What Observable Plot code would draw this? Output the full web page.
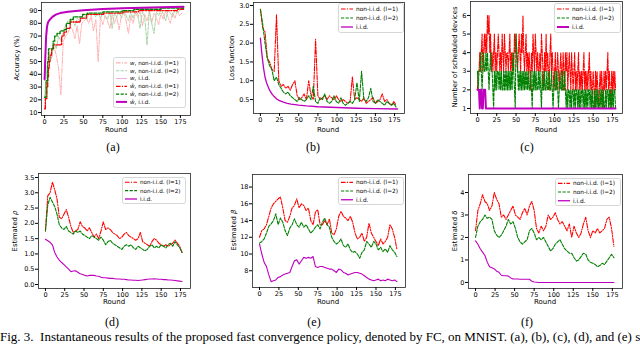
<!DOCTYPE html>
<html><head><meta charset="utf-8">
<script src="https://cdn.jsdelivr.net/npm/d3@7"></script>
<script src="https://cdn.jsdelivr.net/npm/@observablehq/plot@0.6"></script>
<style>
body{margin:0;background:#fff;}
#root{position:relative;width:640px;height:346px;overflow:hidden;background:#fff;font-family:"DejaVu Sans",sans-serif;}
.lbl{position:absolute;white-space:nowrap;color:#000;line-height:1;}
.serif{font-family:"Liberation Serif","Times New Roman",serif;}
</style></head><body><div id="root"></div>
<script>
// ---------- shared x values (rounds) ----------
const r3 = [0,3,6,9,12,15,18,21,24,27,30,33,36,39,42,45,48,51,54,57,60,63,66,69,72,75,78,81,84,87,90,93,96,99,102,105,108,111,114,117,120,123,126,129,132,135,138,141,144,147,150,153,156,159,162,165,168,171,174,177];
const xTicks = [0,25,50,75,100,125,150,175];

// ---------- (a) accuracy ----------
const accWL1 = [13,30,48,57,62,55,45,24,66,70, 72,77,75,68,78,64,80,82,84,80, 86,74,83,50,85,79,86,82,76,87, 80,85,75,86,88,82,72,86,80,88, 85,89,78,87,82,89,80,88,84,79, 88,83,90,85,80,88,84,90,86,88];
const accWL2 = [22,45,58,52,65,60,70,66,74,78, 82,80,84,78,84,82,85,87,83,88, 86,88,85,88,84,88,86,83,89,76, 88,85,89,84,90,86,82,89,84,90, 87,76,89,85,63,90,80,72,89,86, 91,87,82,90,88,85,91,88,90,92];
const accWIIDx = [0,2,4,6,10,15,20,30,40,50,60,75,100,125,150,179];
const accWIID = [36,68,79,82,84.5,86.5,87.8,88.8,89.5,90,90.5,91,91.6,92,92.4,92.8];
const accHL1x = [0,1,3,4,5,6,7,9,11,22,25,28,33,46,54,76,101,121,171,179];
const accHL1 = [13,21,30,38,45,50,55,60,63,70,73,76,81,84,87,88,89,90,91,92];
const accHL2x = [0,2,4,5,11,13,16,20,25,28,33,37,49,55,75,100,115,150,179];
const accHL2 = [22,35,50,60,66,70,72,74,75,80,83,85,87,88,89,90,91,92,92.5];
const accHIIDx = [0,1,2,3,4,5,7,10,15,20,30,40,50,60,75,100,125,150,179];
const accHIID = [36,55,70,77,80,81.5,83,85,87,88,89,89.6,90.2,90.7,91.2,91.8,92.2,92.6,93];
const accTicks = [10,20,30,40,50,60,70,80,90];

// ---------- (b) loss ----------
const lossL1 = [2.9,2.4,2.3,1.6,1.5,1.3,1.25,2.75,1.0,0.85, 0.9,0.8,0.85,0.75,0.9,1.0,0.6,0.5,0.55,0.65, 0.5,1.0,0.6,0.5,2.1,0.6,0.5,0.55,0.6,0.5, 0.6,0.55,0.5,0.6,0.5,0.45,0.5,0.45,0.4,0.45, 1.1,0.5,0.55,0.5,0.45,0.55,0.4,0.45,0.5,0.55, 0.4,0.45,0.5,0.65,0.45,0.5,0.4,0.35,0.45,0.35];
const lossL2 = [2.9,2.5,2.0,1.6,1.4,1.3,1.0,1.1,0.9,0.8, 0.7,0.65,0.7,0.6,0.55,0.5,0.45,0.55,0.5,0.45, 0.5,0.6,0.5,0.85,0.45,0.4,0.55,0.5,0.65,0.45, 0.4,0.45,0.6,0.45,0.4,0.55,0.4,0.35,0.4,0.45, 0.4,0.5,0.95,0.45,1.25,0.5,0.45,0.55,0.8,0.45, 0.4,0.5,0.45,0.4,0.35,0.45,0.4,0.35,0.4,0.3];
const lossIIDx = [0,2,4,6,8,10,12,15,18,21,25,30,35,40,50,60,75,100,125,150,179];
const lossIID = [2.13,1.7,1.35,1.1,0.95,0.85,0.75,0.65,0.58,0.52,0.47,0.43,0.4,0.38,0.35,0.33,0.31,0.29,0.27,0.26,0.25];
const lossTicks = [0.5,1.0,1.5,2.0,2.5,3.0];

// ---------- (c) scheduled devices (one value per round) ----------
const devL1 = [2,3,3,4,3,4,5,3,4,5,4,5,4,6,5,6,4,5,3,4, 3,4,5,3,4,3,4,5,4,3,4,3,5,4,3,5,4,3,4,4, 3,4,5,3,4,3,4,3,5,4,5,4,3,4,5,4,3,5,4,6, 4,3,4,5,3,4,3,4,3,2,4,3,5,4,3,5,4,3,4,3, 3,4,3,5,4,3,2,4,3,5,3,4,3,2,4,5,3,4,3,2, 3,4,2,3,4,3,2,3,4,3,2,4,3,2,4,3,4,2,3,4, 3,2,4,3,2,3,4,2,3,2,3,4,2,3,2,3,2,3,4,2, 3,2,3,2,3,4,2,3,2,2,3,2,1,3,2,3,2,1,2,3, 2,3,2,1,3,2,3,2,3,4,2,3,2,1,3,2,3,2,3,2];
const devL2 = [3,2,3,3,4,3,2,3,4,3,3,4,3,4,3,2,3,4,3,3, 2,1,3,2,3,2,3,3,2,3,2,3,2,2,3,2,3,2,3,2, 3,2,3,2,3,2,4,3,2,1,5,4,3,2,3,2,3,2,3,2, 3,2,3,2,3,2,3,2,2,3,2,1,3,2,3,2,3,2,2,3, 2,3,2,1,3,2,2,3,2,2,3,2,2,3,2,2,3,2,1,2, 3,2,2,3,2,1,2,3,2,2,3,2,2,3,2,1,2,1,2,2, 1,2,1,2,2,1,2,1,2,2,1,2,1,2,1,2,2,1,2,1, 2,1,2,1,2,2,1,2,1,2,1,1,2,1,2,1,2,1,1,2, 1,2,1,2,1,1,2,1,2,2,1,2,1,2,1,2,1,2,2,1];
const devIIDx = [0,1,2,3,4,5,6,7,8,9,10,11,179];
const devIID = [2,2,2,1,2,2,1,1,2,2,2,1,1];
const devTicks = [1,2,3,4,5,6];

// ---------- (d) estimated rho ----------
const rhoL1 = [1.75,2.9,3.0,3.35,3.1,2.8,2.2,2.15,2.3,2.45, 2.2,1.9,1.7,1.75,1.8,2.05,1.9,1.85,1.75,1.85, 1.7,1.55,1.65,1.5,1.75,2.05,1.8,1.85,1.8,1.7, 1.65,1.6,1.5,1.55,1.65,1.7,1.6,1.55,1.5,1.45, 1.5,1.7,1.4,1.35,1.3,1.25,1.4,1.5,1.45,1.35, 1.3,1.25,1.3,1.25,1.3,1.35,1.45,1.35,1.25,1.05];
const rhoL2 = [1.75,2.6,2.85,2.7,2.55,2.3,1.95,1.85,1.8,1.9, 1.75,1.7,1.65,1.75,1.7,1.75,1.65,1.6,1.55,1.5, 1.6,1.55,1.5,1.45,1.55,1.45,1.3,1.4,1.45,1.35, 1.3,1.25,1.2,1.15,1.25,1.3,1.25,1.3,1.2,1.15, 1.25,1.2,1.15,1.1,1.15,1.25,1.3,1.2,1.25,1.2, 1.3,1.25,1.2,1.3,1.35,1.25,1.4,1.3,1.2,1.05];
const rhoIID = [1.48,1.43,1.38,1.3,1.05,0.9,0.8,0.72,0.65,0.58, 0.5,0.42,0.44,0.45,0.4,0.35,0.33,0.3,0.28,0.3, 0.3,0.3,0.28,0.27,0.24,0.22,0.22,0.21,0.2,0.2, 0.19,0.18,0.18,0.17,0.17,0.16,0.15,0.15,0.14,0.14, 0.13,0.14,0.15,0.16,0.17,0.18,0.18,0.19,0.18,0.17, 0.17,0.16,0.16,0.15,0.15,0.14,0.13,0.12,0.11,0.1];
const rhoTicks = [0.0,0.5,1.0,1.5,2.0,2.5,3.0,3.5];

// ---------- (e) estimated beta ----------
const betaL1 = [12,12.8,13,13.5,14.5,15.5,16,16.3,16.6,16.8, 15.5,14,13.8,14.5,15.5,15.8,16.6,15.5,16,15.8, 15.2,15.5,14,13.5,15,15.3,13.5,13.5,14,13.5, 14.2,12.5,12.3,13,14.5,15.1,14.5,14.3,14,14.5, 13.8,12.5,11.8,12,12.5,11.5,12,13.7,12.5,12, 11.5,11,11.8,11.2,11.5,12,13.5,13,12,10.5];
const betaL2 = [11.3,11.5,11.8,12.5,13.3,13.6,14,14.8,13.5,14.3, 13.8,12.8,12.2,13.1,13.5,14.2,13.5,13.2,13.8,13.2, 13.5,13,12.5,12.8,13.2,13.5,13,13.8,14.3,13.5, 13.2,12,11.5,11.2,11.4,11.8,11,10.8,11.2,10.5, 10.2,10.3,10,9.5,10.2,10.5,11.5,11.2,10.8,11.5, 11.2,10.5,10.8,10.3,10.6,10.2,11,10.5,10.2,9.7];
const betaIID = [11.2,10,9,8.5,7.5,6.7,6.8,6.9,7.2,7.3, 7.5,7.6,7.7,7.8,8.5,9.2,9.3,8.8,9.2,9.6, 9.5,9.6,9.5,9.7,8.5,8.4,8.5,8.5,8.4,8.3, 8.2,8.2,8,7.8,8.2,8.1,7.8,7.7,7.5,7.6, 7.7,7.8,7.8,7.7,7.6,7.4,7.2,7,6.9,6.8, 6.9,7,6.8,6.9,6.8,7,6.9,6.8,6.9,6.7];
const betaTicks = [8,10,12,14,16,18];

// ---------- (f) estimated delta ----------
const deltaL1 = [2.3,3.2,3.5,3.9,3.6,3.5,3.2,3.4,4.0,3.7, 3.5,2.9,3.0,2.8,3.0,3.2,3.4,3.0,2.9,2.8, 3.1,3.3,3.0,3.4,3.6,3.2,2.4,2.2,2.5,2.3, 2.5,3.0,2.8,2.9,3.1,2.8,2.6,2.7,2.5,2.3, 2.6,2.0,2.5,2.2,2.0,2.2,2.6,2.9,2.3,2.0, 2.3,2.2,2.4,2.2,2.3,2.4,2.8,2.9,2.4,1.6];
const deltaL2 = [2.0,2.5,2.7,2.8,3.0,2.85,2.9,2.8,2.3,2.1, 2.0,2.1,2.3,2.5,2.8,2.6,2.7,2.4,2.0,1.8, 1.7,1.8,1.9,2.3,2.4,2.2,1.9,2.0,1.9,2.0, 1.8,1.6,1.4,1.5,1.7,1.8,1.9,1.7,1.5,1.4, 1.3,1.3,1.1,0.95,1.0,1.15,1.3,1.25,1.0,0.9, 0.85,0.8,0.7,0.75,0.85,0.8,0.95,1.1,1.25,1.1];
const deltaIID = [1.85,1.7,1.5,1.35,1.2,0.9,0.7,0.65,0.6,0.5, 0.45,0.32,0.3,0.3,0.28,0.2,0.15,0.15,0.15,0.14, 0.14,0.14,0.14,0.14,0.05,0.02,0.01,0,0,0, 0,0,0,0,0,0,0,0,0,0, 0,0,0,0,0,0,0,0,0,0, 0,0,0,0,0,0,0,0,0,0];
const deltaTicks = [0,1,2,3,4];

// ---------- styles ----------
const RED = "#ff0000", GREEN = "#008000", MAG = "#bf00bf";
const LRED = "#ffb0b0", LGREEN = "#a8d4a8", LMAG = "#eab0ea";
const DASHDOT = "4.5,1.4,1.1,1.4", DASHED = "3.2,1.4";

const root = document.getElementById("root");
const pts = (xs, ys) => ys.map((y, i) => ({x: xs[i], y}));
const idx = ys => ys.map((y, i) => ({x: i, y}));

function panel(o) {
  const marks = o.lines.map(l => Plot.line(l.data, {x: "x", y: "y", stroke: l.color, strokeWidth: l.w || 1.1,
    strokeDasharray: l.dash, curve: l.curve || "linear"}));
  marks.push(Plot.frame({stroke: "#222", strokeWidth: 0.8}));
  marks.push(Plot.axisX({ticks: xTicks, tickSize: 3, tickPadding: 0.5, label: null, tickFormat: d => String(d)}));
  marks.push(Plot.axisY({ticks: o.yTicks, tickSize: 3, tickPadding: 1, label: null, tickFormat: o.yFmt || (d => String(d))}));
  const svg = Plot.plot({
    width: o.width, height: o.height,
    marginLeft: o.ml, marginRight: o.mr, marginTop: o.mt, marginBottom: o.mb,
    x: {domain: o.xDomain || [-9, 188]},
    y: {domain: o.yDomain},
    style: {fontFamily: "DejaVu Sans", fontSize: "6.5px", color: "#000", background: "transparent", overflow: "visible"},
    marks
  });
  svg.style.position = "absolute";
  svg.style.left = o.left + "px";
  svg.style.top = o.top + "px";
  root.appendChild(svg);
}

function legend(o) {
  const svg = d3.select(root).append("svg")
    .style("position", "absolute").style("left", o.left + "px").style("top", o.top + "px")
    .attr("width", o.w).attr("height", o.h);
  svg.append("rect").attr("x", 0.5).attr("y", 0.5).attr("width", o.w - 1).attr("height", o.h - 1).attr("rx", 2)
    .attr("fill", "white").attr("fill-opacity", 0.85).attr("stroke", "#cccccc").attr("stroke-width", 0.8);
  o.items.forEach((it, i) => {
    const y = o.pad + o.row * (i + 0.5);
    svg.append("line").attr("x1", 3).attr("x2", 3 + o.sample).attr("y1", y).attr("y2", y)
      .attr("stroke", it.color).attr("stroke-width", it.w || 1.1).attr("stroke-dasharray", it.dash || null);
    const t = svg.append("text").attr("x", 6 + o.sample).attr("y", y).attr("dy", "0.35em")
      .attr("font-family", "DejaVu Sans").attr("font-size", o.fs).attr("fill", "#000");
    if (it.sym) { t.append("tspan").attr("font-style", "italic").text(it.sym); }
    t.append("tspan").text(it.text);
  });
}

function label(html, x, y, size, rotate, cls) {
  const d = document.createElement("div");
  d.className = "lbl" + (cls ? " " + cls : "");
  d.innerHTML = html;
  d.style.left = x + "px"; d.style.top = y + "px"; d.style.fontSize = size + "px";
  d.style.transform = "translate(-50%,-50%)" + (rotate ? " rotate(-90deg)" : "");
  root.appendChild(d);
}

// (a)
panel({left: 0, top: 0, width: 200, height: 135, ml: 41, mr: 10, mt: 2, mb: 20, xDomain: [-4, 188],
  yDomain: [7.7, 96.3], yTicks: accTicks,
  lines: [
    {data: pts(r3, accWL1), color: LRED, dash: DASHDOT, w: 1},
    {data: pts(r3, accWL2), color: LGREEN, dash: DASHED, w: 1},
    {data: pts(accWIIDx, accWIID), color: LMAG, w: 1},
    {data: pts(accHL1x, accHL1), color: RED, dash: DASHDOT, w: 1.3, curve: "step-after"},
    {data: pts(accHL2x, accHL2), color: GREEN, dash: DASHED, w: 1.3, curve: "step-after"},
    {data: pts(accHIIDx, accHIID), color: MAG, w: 2}
  ]});
// (b)
panel({left: 210, top: 0, width: 200, height: 135, ml: 43, mr: 6, mt: 2, mb: 22,
  yDomain: [0.13, 3.08], yTicks: lossTicks, yFmt: d => d.toFixed(1),
  lines: [
    {data: pts(r3, lossL1), color: RED, dash: DASHDOT},
    {data: pts(r3, lossL2), color: GREEN, dash: DASHED},
    {data: pts(lossIIDx, lossIID), color: MAG, w: 1.3}
  ]});
// (c)
panel({left: 420, top: 0, width: 215, height: 135, ml: 50, mr: 13, mt: 1, mb: 22,
  yDomain: [0.73, 6.75], yTicks: devTicks,
  lines: [
    {data: idx(devL1), color: RED, dash: DASHDOT},
    {data: idx(devL2), color: GREEN, dash: DASHED},
    {data: pts(devIIDx, devIID), color: MAG, w: 2}
  ]});
// (d)
panel({left: 0, top: 160, width: 200, height: 145, ml: 38, mr: 10, mt: 13, mb: 17,
  yDomain: [-0.13, 3.63], yTicks: rhoTicks, yFmt: d => d.toFixed(1),
  lines: [
    {data: pts(r3, rhoL1), color: RED, dash: DASHDOT},
    {data: pts(r3, rhoL2), color: GREEN, dash: DASHED},
    {data: pts(r3, rhoIID), color: MAG}
  ]});
// (e)
panel({left: 210, top: 160, width: 200, height: 145, ml: 42, mr: 5, mt: 14, mb: 18,
  yDomain: [6.0, 19.5], yTicks: betaTicks,
  lines: [
    {data: pts(r3, betaL1), color: RED, dash: DASHDOT},
    {data: pts(r3, betaL2), color: GREEN, dash: DASHED},
    {data: pts(r3, betaIID), color: MAG}
  ]});
// (f)
panel({left: 420, top: 160, width: 215, height: 145, ml: 48, mr: 13, mt: 14, mb: 17,
  yDomain: [-0.27, 4.8], yTicks: deltaTicks,
  lines: [
    {data: pts(r3, deltaL1), color: RED, dash: DASHDOT},
    {data: pts(r3, deltaL2), color: GREEN, dash: DASHED},
    {data: pts(r3, deltaIID), color: MAG}
  ]});

// legends
const std3 = [
  {color: RED, dash: DASHDOT, text: "non-i.i.d. (l=1)"},
  {color: GREEN, dash: DASHED, text: "non-i.i.d. (l=2)"},
  {color: MAG, text: "i.i.d.", w: 1.3}
];
legend({left: 113, top: 57, w: 73, h: 51, pad: 2, row: 7.8, sample: 11, fs: 5.6, items: [
  {color: LRED, dash: DASHDOT, sym: "w", text: ", non-i.i.d. (l=1)"},
  {color: LGREEN, dash: DASHED, sym: "w", text: ", non-i.i.d. (l=2)"},
  {color: LMAG, sym: "w", text: ", i.i.d."},
  {color: RED, dash: DASHDOT, sym: "ŵ", text: ", non-i.i.d. (l=1)", w: 1.3},
  {color: GREEN, dash: DASHED, sym: "ŵ", text: ", non-i.i.d. (l=2)", w: 1.3},
  {color: MAG, sym: "ŵ", text: ", i.i.d.", w: 2}
]});
legend({left: 338, top: 3, w: 66, h: 30, pad: 1.5, row: 9, sample: 12, fs: 5.8, items: std3});
legend({left: 554, top: 3, w: 67, h: 30, pad: 1.5, row: 9, sample: 12, fs: 5.8, items: std3.map((d, i) => i === 2 ? {...d, w: 2} : d)});
legend({left: 122, top: 177, w: 64, h: 27, pad: 1, row: 8.4, sample: 12, fs: 5.6, items: std3});
legend({left: 338, top: 177, w: 66, h: 28, pad: 1, row: 8.7, sample: 12, fs: 5.8, items: std3});
legend({left: 555, top: 178, w: 66, h: 28, pad: 1, row: 8.7, sample: 12, fs: 5.8, items: std3});

// axis labels
label("Round", 116, 129.5, 7);
label("Round", 328, 129.5, 7);
label("Round", 546, 129.5, 7);
label("Round", 114, 302, 7);
label("Round", 328, 302, 7);
label("Round", 545, 302, 7);
label("Accuracy (%)", 17, 58, 6.8, true);
label("Loss function", 232, 58, 6.8, true);
label("Number of scheduled devices", 455, 57, 6.8, true);
label("Estimated <i>ρ</i>", 15, 231, 6.8, true);
label("Estimated <i>β</i>", 234, 230, 6.8, true);
label("Estimated <i>δ</i>", 455, 231, 6.8, true);

// sub-figure labels
label("(a)", 113, 147, 12, false, "serif");
label("(b)", 313, 147, 12, false, "serif");
label("(c)", 527, 147, 12, false, "serif");
label("(d)", 112, 322, 12, false, "serif");
label("(e)", 314, 322, 12, false, "serif");
label("(f)", 527, 322, 12, false, "serif");

// caption (the reference image is cropped right after "(e) s")
const cap = document.createElement("div");
cap.className = "lbl serif";
cap.style.left = "0px"; cap.style.top = "330px"; cap.style.fontSize = "13px";
cap.textContent = "Fig. 3.\u00a0\u00a0Instantaneous results of the proposed fast convergence policy, denoted by FC, on MNIST. (a), (b), (c), (d), and (e) s";
root.appendChild(cap);
</script></body></html>
